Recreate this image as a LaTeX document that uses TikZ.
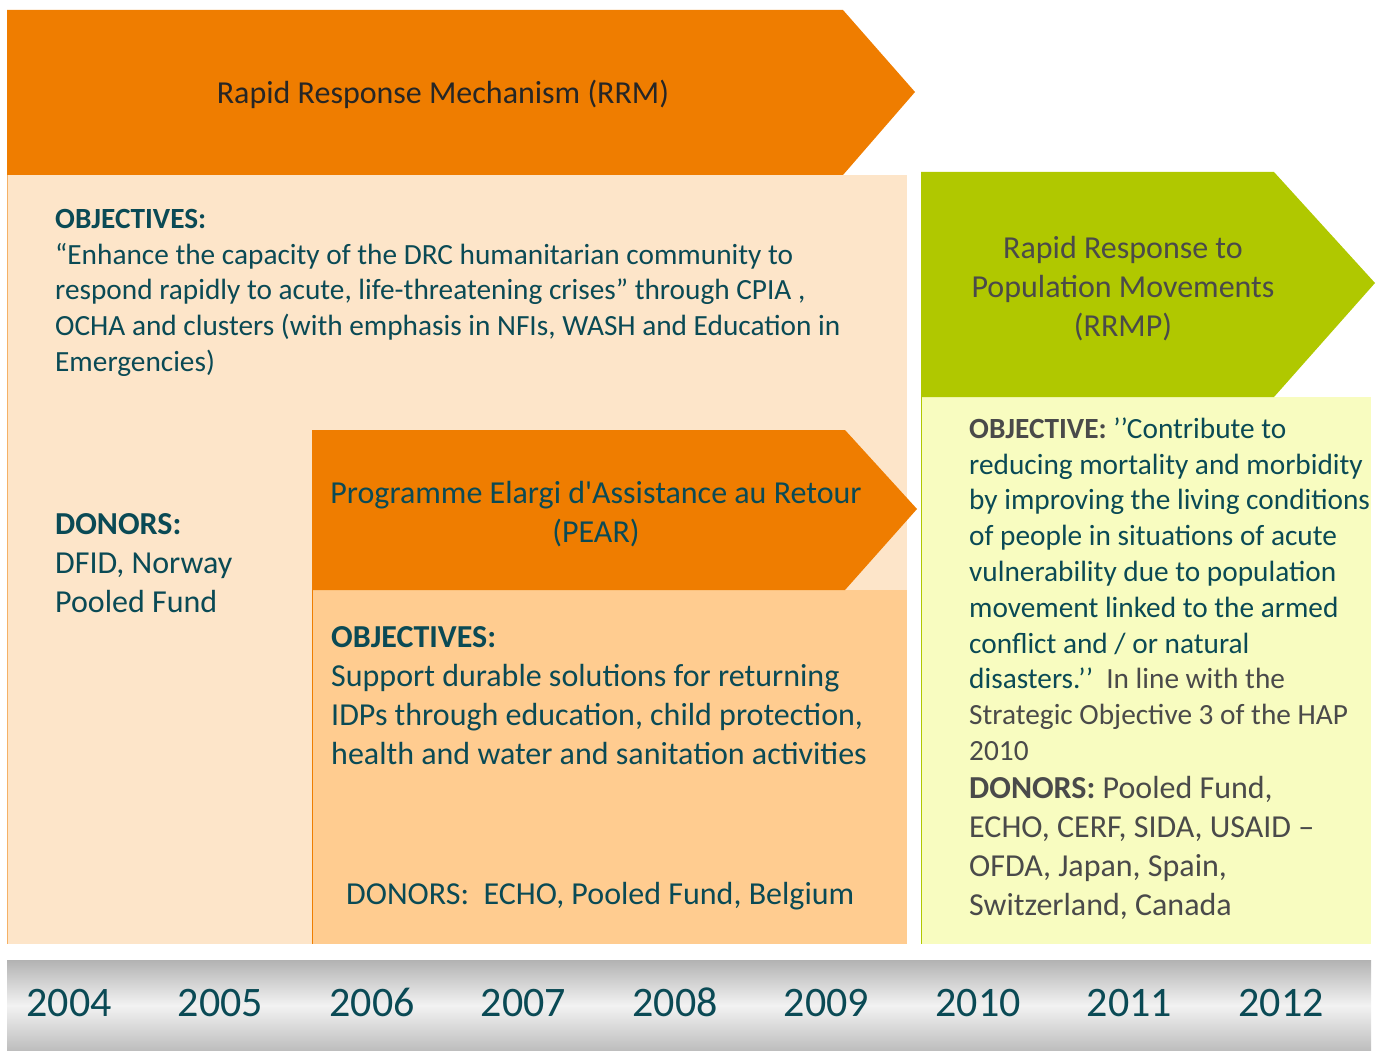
\documentclass[tikz,border=0pt]{standalone}
\usepackage{fontspec}
\setmainfont{Carlito}
\usepackage{xcolor}

\definecolor{rrmorange}{HTML}{EF7D00}
\definecolor{rrmbody}{HTML}{FDE5C9}
\definecolor{pearbody}{HTML}{FFCC90}
\definecolor{rrmpgreen}{HTML}{B0C800}
\definecolor{rrmpbody}{HTML}{F8FCC0}
\definecolor{tealtext}{HTML}{0A4A55}
\definecolor{greytext}{HTML}{4A4A4A}

\begin{document}
\begin{tikzpicture}[x=1pt, y=-1pt,
	txt/.style={inner sep=0pt, align=left, text=tealtext, anchor=north west},
	small/.style={font=\fontsize{29.3}{35.8}\selectfont},
	large/.style={font=\fontsize{32}{39}\selectfont},
	title/.style={inner sep=0pt, align=center, large}]
	\useasboundingbox (0,0) rectangle (1381,1051);

	% RRM column
	\begin{scope}
		\fill[rrmbody] (7,175) rectangle (907,944);
		\draw[rrmorange!60, line width=1pt] (7,175) -- (7,944);
		\fill[rrmorange] (7,10) -- (843,10) -- (915,92) -- (843,175) -- (7,175) -- cycle;
		\node[title, text=black!85] (rrm) at (443,94) {Rapid Response Mechanism (RRM)};

		\node[txt, small] (rrmobj) at (55,203) {\strut\textbf{OBJECTIVES:}\\
			“Enhance the capacity of the DRC humanitarian community to\\
			respond rapidly to acute, life-threatening crises” through CPIA ,\\
			OCHA and clusters (with emphasis in NFIs, WASH and Education in\\
			Emergencies)};
		\node[txt, large] (rrmdon) at (55,507) {\strut\textbf{DONORS:}\\
			DFID, Norway\\
			Pooled Fund};
	\end{scope}

	% PEAR column
	\begin{scope}
		\fill[pearbody] (312,590) rectangle (907,944);
		\draw[rrmorange, line width=0.8pt] (312,590) -- (312,944);
		\fill[rrmorange] (312,430) -- (845,430) -- (917,509) -- (845,590) -- (312,590) -- cycle;
		\node[title, text=tealtext] (pear) at (596,514) {Programme Elargi d\textquotesingle Assistance au Retour\\(PEAR)};

		\node[txt, large] (pearobj) at (331,620) {\strut\textbf{OBJECTIVES:}\\
			Support durable solutions for returning\\
			IDPs through education, child protection,\\
			health and water and sanitation activities};
		\node[txt, large, anchor=base west] (peardon) at (346,904) {DONORS:\ \ ECHO, Pooled Fund, Belgium};
	\end{scope}

	% RRMP column
	\begin{scope}
		\fill[rrmpbody] (921,397) rectangle (1371,944);
		\draw[rrmpgreen, line width=1pt] (921,397) -- (921,944);
		\fill[rrmpgreen] (921,172) -- (1274,172) -- (1375,283) -- (1274,397) -- (921,397) -- cycle;
		\node[title, text=greytext] (rrmp) at (1123,289) {Rapid Response to\\Population Movements\\(RRMP)};

		\node[txt, small] (rrmpobj) at (969,413) {\strut\textcolor{greytext}{\textbf{OBJECTIVE:}} ’’Contribute to\\
			reducing mortality and morbidity\\
			by improving the living conditions\\
			of people in situations of acute\\
			vulnerability due to population\\
			movement linked to the armed\\
			conflict and / or natural\\
			disasters.’’\ \ \textcolor{greytext}{In line with the}\\
			\textcolor{greytext}{Strategic Objective 3 of the HAP}\\
			\textcolor{greytext}{2010}};
		\node[txt, large, text=greytext] (rrmpdon) at (969,771) {\strut\textbf{DONORS:} Pooled Fund,\\
			ECHO, CERF, SIDA, USAID –\\
			OFDA, Japan, Spain,\\
			Switzerland, Canada};
	\end{scope}

	% Timeline
	\shade[top color=black!30, bottom color=black!26, middle color=black!5] (7,960) rectangle (1371,1051);
	\foreach \yr [count=\i from 0] in {2004,2005,...,2012} {
		\node[inner sep=0pt, anchor=base, text=tealtext, font=\fontsize{42}{46}\selectfont] (y\yr) at (69+151.5*\i,1016) {\yr};
	}
\end{tikzpicture}
\end{document}
